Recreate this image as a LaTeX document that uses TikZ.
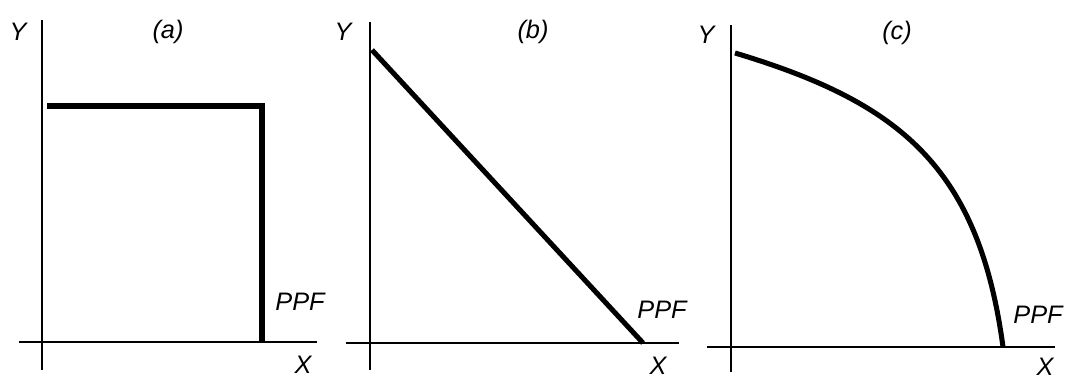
\documentclass[tikz,border=0pt]{standalone}
\usepackage{fontspec}
\setmainfont{Liberation Sans}
\usetikzlibrary{positioning}

\begin{document}
\begin{tikzpicture}[
  axis/.style={line width=1.4pt},
  ppf/.style ={line width=3.6pt},
  lbl/.style ={font=\fontsize{18}{21}\selectfont\itshape,inner sep=0pt}
]
\useasboundingbox (0,0) rectangle (26.625,9.5);

%% Panel (a) -- fixed proportions
\coordinate (ya1) at (1.05,9.0);   \coordinate (ya0) at (1.05,0.25);
\coordinate (xa0) at (0.475,0.95); \coordinate (xa1) at (7.925,0.95);
\coordinate (pa0) at (1.175,6.85); \coordinate (pa1) at (6.55,6.85);
\coordinate (pa2) at (6.55,0.95);
\draw[axis] (ya1) -- (ya0);
\draw[axis] (xa0) -- (xa1);
\draw[ppf]  (pa0) -- (pa1) -- (pa2);
\node[lbl] (ya)  at (0.45,8.7)   {Y};
\node[lbl] (ta)  at (4.2,8.7)    {(a)};
\node[lbl] (fa)  at (7.5,1.95)   {PPF};
\node[lbl] (xa)  at (7.575,0.375){X};

%% Panel (b) -- constant cost
\coordinate (yb1) at (9.25,8.95);  \coordinate (yb0) at (9.25,0.25);
\coordinate (xb0) at (8.65,0.925); \coordinate (xb1) at (16.975,0.925);
\coordinate (pb0) at (9.3,8.25);   \coordinate (pb1) at (16.075,0.925);
\draw[axis] (yb1) -- (yb0);
\draw[axis] (xb0) -- (xb1);
\draw[ppf]  (pb0) -- (pb1);
\node[lbl] (yb)  at (8.575,8.7)  {Y};
\node[lbl] (tb)  at (13.325,8.7) {(b)};
\node[lbl] (fb)  at (16.55,1.75) {PPF};
\node[lbl] (xb)  at (16.45,0.35) {X};

%% Panel (c) -- increasing cost
\coordinate (yc1) at (18.275,8.875); \coordinate (yc0) at (18.275,0.2);
\coordinate (xc0) at (17.675,0.825); \coordinate (xc1) at (26.375,0.825);
\coordinate (pc0) at (18.375,8.175); \coordinate (pc1) at (25.075,0.825);
\draw[axis] (yc1) -- (yc0);
\draw[axis] (xc0) -- (xc1);
\draw[ppf]  (pc0) .. controls (22.5,6.9375) and (24.4675,5.325) .. (pc1);
\node[lbl] (yc)  at (17.65,8.625) {Y};
\node[lbl] (tc)  at (22.425,8.675){(c)};
\node[lbl] (fc)  at (25.95,1.625) {PPF};
\node[lbl] (xc)  at (26.125,0.34) {X};
\end{tikzpicture}
\end{document}
